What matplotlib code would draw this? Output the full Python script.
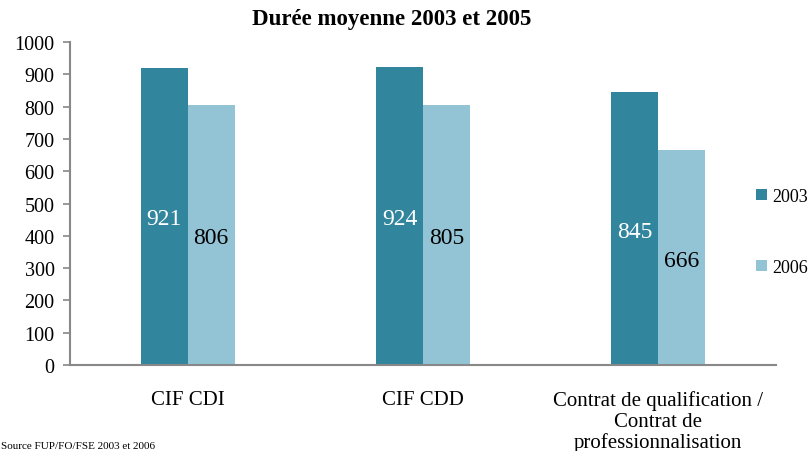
import matplotlib
matplotlib.use("Agg")
import matplotlib.pyplot as plt
import numpy as np

categories = ["CIF CDI", "CIF CDD", "Contrat de qualification /\nContrat de\nprofessionnalisation"]
series_names = ["2003", "2006"]
values_2003 = [921, 924, 845]
values_2006 = [806, 805, 666]
yticks = [0, 100, 200, 300, 400, 500, 600, 700, 800, 900, 1000]

dark = "#31859C"
light = "#93C4D6"

plt.rcParams['font.family'] = ['Liberation Serif', 'DejaVu Serif']

fig = plt.figure(figsize=(8.1, 4.52), dpi=100)
ax = fig.add_axes([70/810, 1-366/452, (776-70)/810, (366-43)/452])

x = np.arange(len(categories))
w = 0.2
b1 = ax.bar(x - w/2, values_2003, w, color=dark, label=series_names[0])
b2 = ax.bar(x + w/2, values_2006, w, color=light, label=series_names[1])

for rect, v in zip(b1, values_2003):
    ax.text(rect.get_x() + rect.get_width()/2, v/2 - 8, str(v), ha='center', va='center',
            color='white', fontsize=17)
for rect, v in zip(b2, values_2006):
    ax.text(rect.get_x() + rect.get_width()/2, v/2 - 8, str(v), ha='center', va='center',
            color='black', fontsize=17)

ax.set_xlim(-0.5, 2.5)
ax.set_ylim(0, 1000)
ax.set_yticks(yticks)
ax.set_yticklabels([str(t) for t in yticks], fontsize=14.5)
ax.set_xticks(x)
ax.set_xticklabels(categories, fontsize=15, linespacing=1.12)
ax.tick_params(axis='x', length=0, pad=18)
ax.tick_params(axis='y', length=5, color='#888888', width=1.2, pad=6)
for s in ['top', 'right']:
    ax.spines[s].set_visible(False)
for s in ['left', 'bottom']:
    ax.spines[s].set_color('#888888')
    ax.spines[s].set_linewidth(1.5)

leg = fig.legend(handles=[b1, b2], labels=series_names, loc='center left',
                 bbox_to_anchor=(756/810, 1-233/452), frameon=False, fontsize=13,
                 handlelength=0.6, handleheight=0.6, handletextpad=0.3, labelspacing=3.0,
                 borderpad=0, borderaxespad=0)

fig.text(392/810, 1-20/452, "Durée moyenne 2003 et 2005", ha='center', va='center',
         fontsize=16.5, fontweight='bold')
fig.text(1/810, 1-447/452, "Source FUP/FO/FSE 2003 et 2006", ha='left', va='center',
         fontsize=8)

fig.savefig("out.png", dpi=100)
